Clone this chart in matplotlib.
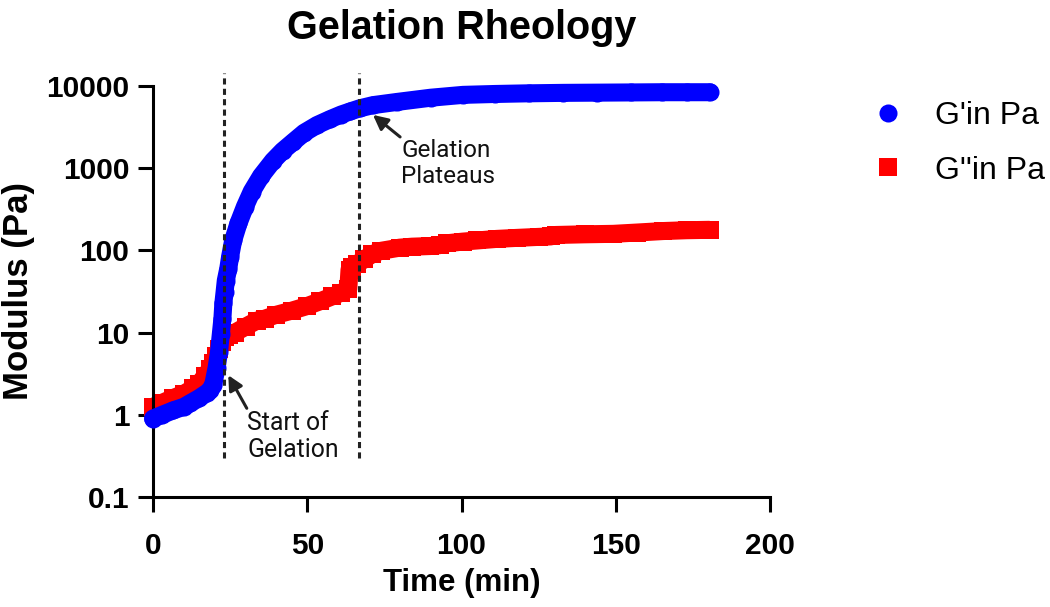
import matplotlib
matplotlib.use("Agg")
import matplotlib.pyplot as plt

# ---- data ----
t_gp = [0, 3, 6.5, 10, 12, 15, 17.5, 18.5, 19.5, 20.6, 21.4, 22.0, 22.5, 22.8, 23.2,
        23.6, 24.4, 25.0, 26.0, 27.7, 29.8, 32, 35, 38.9, 42, 45.4, 49, 53.2, 57.4,
        61, 63.9, 67, 71.3, 79.1, 90, 100.5, 111, 122, 133, 144, 155, 165, 173, 180.5]
g_prime = [0.9, 1.0, 1.13, 1.25, 1.38, 1.6, 1.85, 2.0, 2.3, 3.7, 5.8, 9.7, 14.8, 22.6, 31,
           43, 60, 84, 133, 213, 340, 520, 800, 1230, 1620, 2080, 2700, 3350, 3950,
           4500, 4900, 5350, 5850, 6400, 7200, 7800, 8000, 8150, 8250, 8300, 8350, 8400, 8400, 8400]

t_gpp = [0, 3, 6.5, 10, 13, 15, 17, 18.5, 19.5, 20.5, 21.5, 22.5, 23.5, 24.5, 26.6, 30,
         33.7, 36.3, 40, 45, 49.9, 54.1, 58, 61, 63.3, 63.7, 64.5, 66, 68.5, 71, 74,
         80, 84, 89.8, 93, 95.2, 100.5, 105, 111.4, 118, 125, 129, 130.5, 140, 149.2,
         157, 165.4, 173, 180.5]
g_dprime = [1.25, 1.4, 1.6, 1.8, 2.1, 2.4, 3.0, 3.6, 4.3, 5.2, 6.3, 7.6, 8.8, 9.4, 10.0, 11.8,
            14.0, 14.8, 16.5, 18.5, 21, 24, 27.5, 30.5, 34, 58, 62, 68, 78, 90, 99,
            108, 111, 113, 116, 122, 128, 132, 138, 142, 146, 148, 154, 157, 159,
            165, 172, 176, 178]

series_labels = ["G'in Pa", "G''in Pa"]
y_ticks = [0.1, 1, 10, 100, 1000, 10000]
y_ticklabels = ["0.1", "1", "10", "100", "1000", "10000"]
x_ticks = [0, 50, 100, 150, 200]
gelation_lines = [23, 66.8]

# ---- figure ----
fig = plt.figure(figsize=(10.5, 6.07), dpi=100)
W, H = 1050, 607
ax = fig.add_axes([153 / W, 1 - 497 / H, (770 - 153) / W, (497 - 86) / H])
ax.set_yscale('log')
ax.set_xlim(0, 200)
ax.set_ylim(0.1, 10000)

BLUE = '#0000FF'
RED = '#FF0000'
ms = 13.0

# G'' (red squares) first, G' on top
ax.plot(t_gpp, g_dprime, color=RED, lw=ms, solid_capstyle='butt', solid_joinstyle='round',
        zorder=2, clip_on=False)
ax.plot(t_gpp, g_dprime, ls='none', marker='s', ms=ms, color=RED, mew=0,
        label=series_labels[1], zorder=2, clip_on=False)
ax.plot(t_gp, g_prime, color=BLUE, lw=ms, solid_capstyle='round', solid_joinstyle='round',
        zorder=3, clip_on=False)
ax.plot(t_gp, g_prime, ls='none', marker='o', ms=ms, color=BLUE, mew=0,
        label=series_labels[0], zorder=3, clip_on=False)

# dashed vertical lines
for xv in gelation_lines:
    ax.plot([xv, xv], [0.295, 14400], color='#222222', lw=2.2, ls=(0, (2.0, 1.4)),
            zorder=4, clip_on=False)

# spines / ticks
for s in ['top', 'right']:
    ax.spines[s].set_visible(False)
for s in ['left', 'bottom']:
    ax.spines[s].set_linewidth(2.2)
ax.set_yticks(y_ticks)
ax.set_yticklabels(y_ticklabels)
ax.set_xticks(x_ticks)
ax.minorticks_off()
ax.tick_params(axis='both', length=11, width=2.2, direction='out')
ax.tick_params(axis='y', pad=6)
ax.tick_params(axis='x', pad=14)
for lab in ax.get_xticklabels() + ax.get_yticklabels():
    lab.set_fontfamily('Liberation Sans')
    lab.set_fontweight('bold')
    lab.set_fontsize(21.5)

ax.set_xlabel('Time (min)', fontfamily='Liberation Sans', fontweight='bold', fontsize=22.5, labelpad=6)
ax.set_ylabel('Modulus (Pa)', fontfamily='Liberation Sans', fontweight='bold', fontsize=25, labelpad=8)
ax.set_title('Gelation Rheology', fontfamily='Liberation Sans', fontweight='bold', fontsize=28.5, pad=34)

# annotations
arrow_kw = dict(arrowstyle='-|>', lw=2.2, color='#222222', mutation_scale=22, shrinkA=0, shrinkB=0)
ax.annotate('', xy=(24.4, 3.03), xytext=(30.4, 1.2), arrowprops=arrow_kw, zorder=5)
ax.annotate('', xy=(71.3, 4450), xytext=(80.1, 2400), arrowprops=arrow_kw, zorder=5)
ax.text(30.5, 0.54, 'Start of\nGelation', fontfamily='Roboto', fontsize=17.8, ha='left', va='center',
        linespacing=1.15, color='#111111')
ax.text(80.4, 1140, 'Gelation\nPlateaus', fontfamily='Roboto', fontsize=17.5, ha='left', va='center',
        linespacing=1.15, color='#111111')

# legend
h, l = ax.get_legend_handles_labels()
order = [l.index(series_labels[0]), l.index(series_labels[1])]
leg = fig.legend([h[i] for i in order], [l[i] for i in order], loc='upper left',
                 bbox_to_anchor=(872 / W, 1 - 101 / H), frameon=False, borderpad=0,
                 borderaxespad=0, handlelength=1.0, handletextpad=0.97, labelspacing=0.77,
                 numpoints=1, prop={'family': 'Liberation Sans', 'size': 23})

fig.savefig('out.png', dpi=100)
